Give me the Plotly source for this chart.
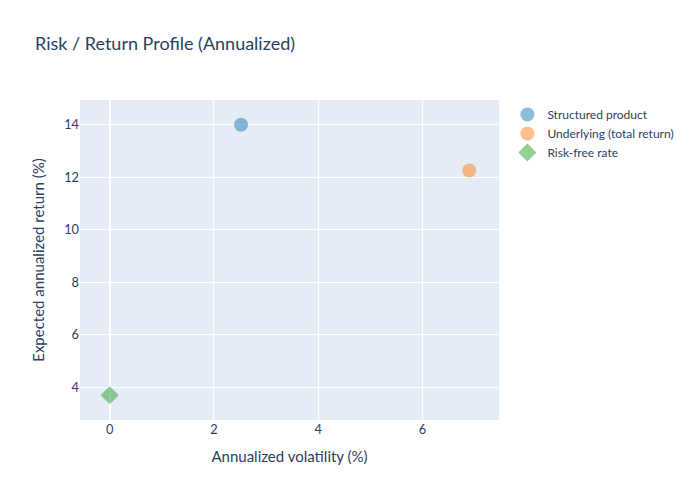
import plotly.graph_objects as go

# Annualized risk / return points
names = ["Structured product", "Underlying (total return)", "Risk-free rate"]
vol = [2.52, 6.90, 0.0]
ret = [14.0, 12.26, 3.70]
symbols = ["circle", "circle", "diamond"]
colors = ["#1f77b4", "#ff7f0e", "#2ca02c"]

fig = go.Figure()

for name, x, y, sym, col in zip(names, vol, ret, symbols, colors):
    fig.add_trace(go.Scatter(
        x=[x], y=[y], mode="markers", name=name,
        marker=dict(size=14, symbol=sym, color=col, opacity=0.5),
    ))

fig.update_layout(
    template="plotly",
    title=dict(text="Risk / Return Profile (Annualized)", x=0.0395,
               y=0.926, yanchor="middle", font=dict(size=18)),
    xaxis_title="Annualized volatility (%)",
    yaxis_title="Expected annualized return (%)",
    font=dict(family="Source Sans Pro, Lato, sans-serif", size=12.8),
    legend=dict(font=dict(size=12)),
    margin=dict(l=72, r=193, t=92, b=72),
)

fig.write_html("out.html")
